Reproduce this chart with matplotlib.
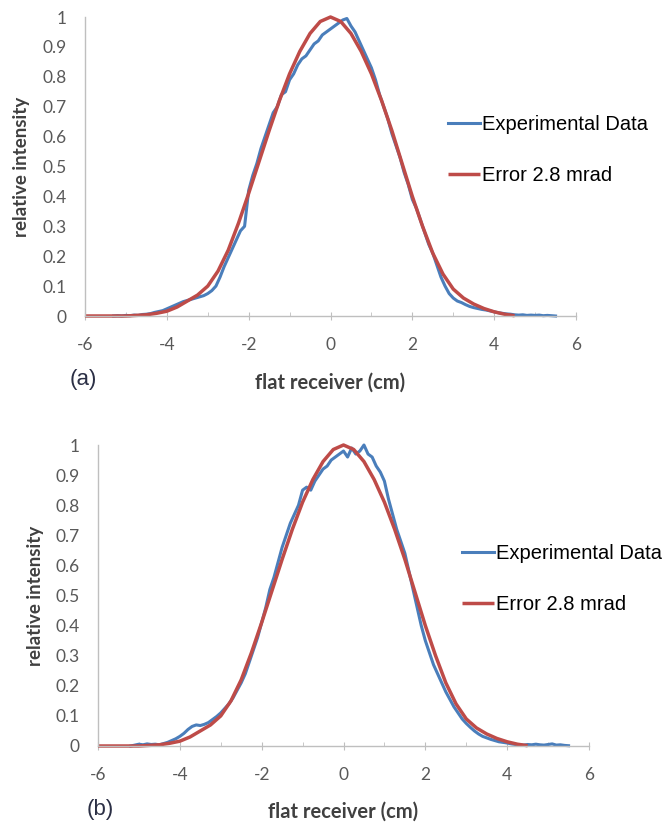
import numpy as np
import matplotlib
matplotlib.use("Agg")
import matplotlib.pyplot as plt
from matplotlib.ticker import MultipleLocator

# ---------------- data ----------------
x_ticks = [-6, -4, -2, 0, 2, 4, 6]
x_tick_labels = ["-6", "-4", "-2", "0", "2", "4", "6"]
y_ticks = [0, 0.1, 0.2, 0.3, 0.4, 0.5, 0.6, 0.7, 0.8, 0.9, 1.0]
y_tick_labels = ["0", "0.1", "0.2", "0.3", "0.4", "0.5", "0.6", "0.7", "0.8", "0.9", "1"]

# model curve "Error 2.8 mrad"
model_x = [-6.0, -5.5, -5.0, -4.75, -4.5, -4.25, -4.0, -3.75, -3.5, -3.25, -3.0, -2.75,
           -2.5, -2.25, -2.0, -1.75, -1.5, -1.25, -1.0, -0.75, -0.5, -0.25, 0.0,
           0.25, 0.5, 0.75, 1.0, 1.25, 1.5, 1.75, 2.0, 2.25, 2.5, 2.75, 3.0, 3.25,
           3.5, 3.75, 4.0, 4.25, 4.5]
model_y = [0.0, 0.0, 0.0, 0.002, 0.004, 0.009, 0.016, 0.03, 0.05, 0.07, 0.10, 0.15,
           0.22, 0.31, 0.41, 0.515, 0.62, 0.72, 0.81, 0.885, 0.945, 0.985, 1.0,
           0.985, 0.945, 0.885, 0.81, 0.72, 0.62, 0.51, 0.40, 0.30, 0.21, 0.14, 0.09, 0.06,
           0.04, 0.025, 0.014, 0.006, 0.001]

# experimental data, panel (a)
exp_a_x = [round(-5.3 + 0.1 * i, 1) for i in range(109)]
exp_a_y = [0.000, 0.001, 0.000, 0.002, 0.001, 0.003, 0.002, 0.005, 0.006, 0.008,
           0.012, 0.015, 0.018, 0.024, 0.030, 0.036, 0.042, 0.048, 0.052, 0.056,
           0.060, 0.064, 0.068, 0.075, 0.085, 0.100, 0.130, 0.165, 0.195, 0.225,
           0.255, 0.285, 0.300, 0.420, 0.470, 0.510, 0.560, 0.600, 0.640, 0.680,
           0.700, 0.740, 0.750, 0.790, 0.810, 0.840, 0.860, 0.870, 0.890, 0.910,
           0.920, 0.940, 0.950, 0.960, 0.970, 0.980, 0.990, 0.995, 0.970, 0.950,
           0.920, 0.890, 0.860, 0.830, 0.790, 0.740, 0.700, 0.660, 0.610, 0.570,
           0.530, 0.480, 0.440, 0.390, 0.360, 0.320, 0.280, 0.240, 0.210, 0.170,
           0.130, 0.100, 0.075, 0.060, 0.050, 0.045, 0.038, 0.032, 0.028, 0.025,
           0.022, 0.020, 0.017, 0.014, 0.011, 0.009, 0.007, 0.006, 0.004, 0.003,
           0.004, 0.002, 0.003, 0.002, 0.003, 0.001, 0.002, 0.001, 0.000]

# experimental data, panel (b)
exp_b_x = [round(-5.2 + 0.1 * i, 1) for i in range(108)]
exp_b_y = [0.000, 0.003, 0.006, 0.004, 0.007, 0.005, 0.006, 0.004, 0.008, 0.012,
           0.018, 0.024, 0.032, 0.042, 0.055, 0.065, 0.070, 0.068, 0.072, 0.078,
           0.088, 0.098, 0.110, 0.125, 0.140, 0.160, 0.185, 0.210, 0.240, 0.280,
           0.320, 0.360, 0.410, 0.460, 0.520, 0.560, 0.610, 0.660, 0.700, 0.740,
           0.770, 0.800, 0.850, 0.860, 0.850, 0.880, 0.900, 0.920, 0.930, 0.950,
           0.960, 0.970, 0.980, 0.960, 0.990, 0.970, 0.980, 1.000, 0.970, 0.960,
           0.930, 0.910, 0.880, 0.820, 0.770, 0.720, 0.680, 0.640, 0.580, 0.520,
           0.460, 0.400, 0.350, 0.310, 0.270, 0.240, 0.210, 0.180, 0.155, 0.130,
           0.110, 0.090, 0.075, 0.062, 0.050, 0.040, 0.032, 0.027, 0.022, 0.018,
           0.014, 0.012, 0.010, 0.007, 0.005, 0.004, 0.003, 0.005, 0.004, 0.006,
           0.004, 0.003, 0.005, 0.007, 0.003, 0.004, 0.002, 0.001]

series_names = ["Experimental Data", "Error 2.8 mrad"]
panel_tags = ["(a)", "(b)"]
x_label = "flat receiver (cm)"
y_label = "relative intensity"

# ---------------- style ----------------
BLUE = "#4A7EBB"
RED = "#BE4B48"
GRID = "#BFBFBF"
TICKC = "#595959"
LABC = "#404040"

W, H = 669, 824
fig = plt.figure(figsize=(W / 100, H / 100), dpi=100)

def fx(px):
    return px / W

def fy(py):
    return 1 - py / H

panels = [
    dict(left=85, right=576, top=17, bottom=316, ex=exp_a_x, ey=exp_a_y,
         tag=(83, 379), xl=383, yl=22, leg=(448, 115)),
    dict(left=98, right=589, top=445, bottom=746, ex=exp_b_x, ey=exp_b_y,
         tag=(100, 810), xl=812, yl=35, leg=(462, 544)),
]

for i, p in enumerate(panels):
    ax = fig.add_axes([fx(p["left"]), fy(p["bottom"]),
                       fx(p["right"] - p["left"]), (p["bottom"] - p["top"]) / H])
    l1, = ax.plot(p["ex"], p["ey"], color=BLUE, lw=2.2, solid_joinstyle="round")
    l2, = ax.plot(model_x, model_y, color=RED, lw=2.5, solid_joinstyle="round",
                  solid_capstyle="butt")
    ax.set_xlim(-6, 6)
    ax.set_ylim(0, 1)
    ax.set_xticks(x_ticks)
    ax.set_xticklabels(x_tick_labels)
    ax.set_yticks(y_ticks)
    ax.set_yticklabels(y_tick_labels)
    ax.xaxis.set_minor_locator(MultipleLocator(1))
    for s in ["top", "right"]:
        ax.spines[s].set_visible(False)
    for s in ["left", "bottom"]:
        ax.spines[s].set_color(GRID)
        ax.spines[s].set_linewidth(1.0)
    ax.tick_params(axis="x", which="major", direction="inout", length=6,
                   color=GRID, labelcolor=TICKC, pad=12)
    ax.tick_params(axis="x", which="minor", direction="in", length=3, color=GRID)
    ax.tick_params(axis="y", length=0, labelcolor=TICKC, pad=13)
    for lab in ax.get_xticklabels() + ax.get_yticklabels():
        lab.set_fontfamily("Lato")
        lab.set_fontsize(12.5)
    for line in ax.get_lines():
        line.set_clip_on(False)

    cx = (p["left"] + p["right"]) / 2
    cy = (p["top"] + p["bottom"]) / 2
    fig.text(fx(cx), fy(p["xl"]), x_label, ha="center", va="center",
             fontfamily="Lato", fontweight="bold", fontsize=14.5, color=LABC)
    fig.text(fx(p["yl"]), fy(cy), y_label, ha="center", va="center", rotation=90,
             fontfamily="Lato", fontweight="bold", fontsize=13.5, color=LABC)
    fig.text(fx(p["tag"][0]), fy(p["tag"][1]), panel_tags[i], ha="center", va="center",
             fontfamily="Liberation Sans", fontsize=16, color="#2B2F45")

    leg = fig.legend([l1, l2], series_names, loc="upper left",
                     bbox_to_anchor=(fx(p["leg"][0]), fy(p["leg"][1])),
                     frameon=False, borderpad=0, borderaxespad=0,
                     handlelength=1.6, handletextpad=0.1, labelspacing=1.6,
                     prop={"family": "Liberation Sans", "size": 14.5})

fig.savefig("out.png", dpi=100)
